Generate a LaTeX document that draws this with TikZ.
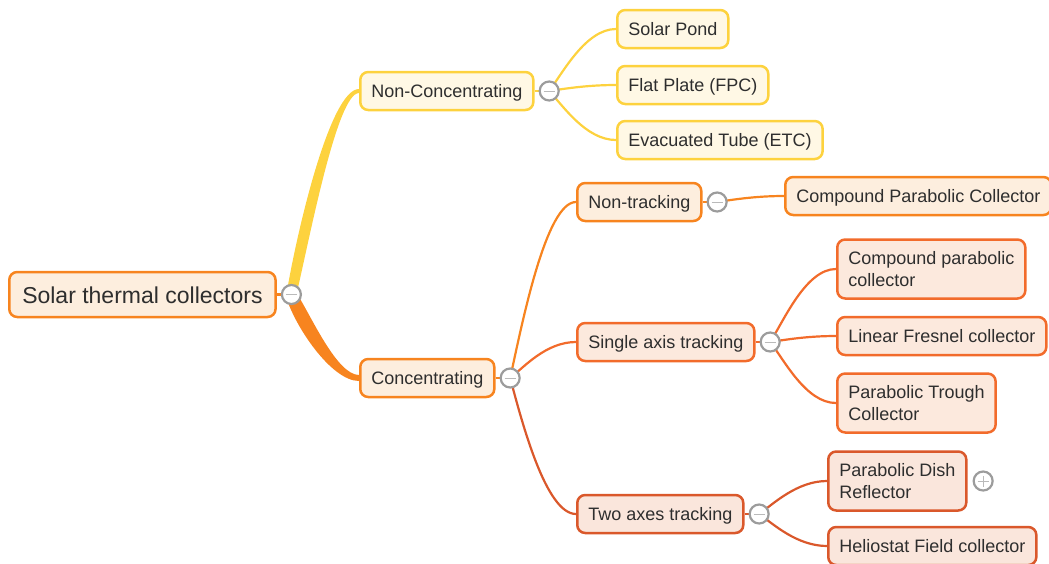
\documentclass[tikz,border=0pt]{standalone}
\usepackage{fontspec}
\setmainfont{Liberation Sans}
\usetikzlibrary{positioning,backgrounds}

\definecolor{ylw}{HTML}{FDD23E}
\definecolor{ylwbg}{HTML}{FFF8E5}
\definecolor{org}{HTML}{F7841F}
\definecolor{orgbg}{HTML}{FDEEDE}
\definecolor{rorg}{HTML}{F26B2B}
\definecolor{rorgbg}{HTML}{FCE9DD}
\definecolor{rust}{HTML}{DA582B}
\definecolor{rustbg}{HTML}{FAE6DC}
\definecolor{ink}{HTML}{2E2E2E}
\definecolor{knob}{HTML}{9C9C9C}

\begin{document}
\begin{tikzpicture}[x=1pt,y=-1pt,
    topic/.style={draw, rounded corners=8pt, line width=2.5pt, anchor=west,
      inner xsep=11pt, text=ink, font=\fontsize{18}{21.6}\selectfont, align=left},
    one/.style={topic, text height=14.5pt, text depth=2.5pt, inner ysep=10.5pt},
    two/.style={topic, minimum height=59pt, inner ysep=8pt},
    yl/.style={draw=ylw, fill=ylwbg},
    og/.style={draw=org, fill=orgbg},
    ro/.style={draw=rorg, fill=rorgbg},
    ru/.style={draw=rust, fill=rustbg},
    knobbox/.style={circle, draw=knob, fill=white, line width=2.2pt, minimum size=19pt, inner sep=0pt},
    minus/.style={knobbox, path picture={\draw[knob!70, line width=1pt]
      ([xshift=-5.5pt]path picture bounding box.center) -- ([xshift=5.5pt]path picture bounding box.center);}},
    plus/.style={knobbox, path picture={\draw[knob!70, line width=1pt]
      ([xshift=-5.5pt]path picture bounding box.center) -- ([xshift=5.5pt]path picture bounding box.center)
      ([yshift=-5.5pt]path picture bounding box.center) -- ([yshift=5.5pt]path picture bounding box.center);}},
    link/.style={line width=2.2pt}]

\useasboundingbox (0,0) rectangle (1049,563);

% topics
\node[one, og, font=\fontsize{23}{27}\selectfont, inner xsep=13pt, text height=19.5pt,
  text depth=2.5pt, inner ysep=11.5pt] (root) at (8,294.5) {Solar thermal collectors};

\node[one, yl] (noncon) at (359,91) {Non-Concentrating};
\node[one, yl] (pond) at (616,29) {Solar Pond};
\node[one, yl] (fpc) at (616,85) {Flat Plate (FPC)};
\node[one, yl] (etc) at (616,140) {Evacuated Tube (ETC)};

\node[one, og] (con) at (359,378) {Concentrating};
\node[one, og] (nontrack) at (576,202) {Non-tracking};
\node[one, og] (cpc) at (784,196) {Compound Parabolic Collector};

\node[one, ro] (single) at (576,342) {Single axis tracking};
\node[two, ro] (cpc2) at (836,269) {Compound parabolic\\collector};
\node[one, ro] (fresnel) at (836,336) {Linear Fresnel collector};
\node[two, ro] (ptc) at (836,403) {Parabolic Trough\\Collector};

\node[one, ru] (twoax) at (576,514) {Two axes tracking};
\node[two, ru] (dish) at (827,481) {Parabolic Dish\\Reflector};
\node[one, ru] (helio) at (827,546) {Heliostat Field collector};

% collapse knobs
\node[minus, right=4pt of root] (root-k) {};
\node[minus, right=4pt of noncon] (noncon-k) {};
\node[minus, right=4pt of con] (con-k) {};
\node[minus, right=4pt of nontrack] (nontrack-k) {};
\node[minus, right=4pt of single] (single-k) {};
\node[minus, right=4pt of twoax] (twoax-k) {};
\node[plus, right=5pt of dish] (dish-k) {};

\begin{scope}[on background layer]
% main branches
\fill[ylw] ([xshift=-5pt]root-k.center) .. controls +(10,-61) and +(-29,0) .. ([yshift=2pt]noncon.west)
  -- ([yshift=-2pt]noncon.west) .. controls +(-22,0) and +(13,-55) .. ([xshift=5pt]root-k.center) -- cycle;
\fill[org] ([xshift=-6pt]root-k.center) .. controls +(8,30) and +(-28,0) .. ([yshift=-3pt]con.west)
  -- ([yshift=3pt]con.west) .. controls +(-22,0) and +(14,22) .. ([xshift=6pt]root-k.center) -- cycle;
\draw[link, org] (root) -- (root-k);

\draw[link, ylw] (noncon) -- (noncon-k);
\draw[link, ylw] (noncon-k.center) .. controls +(14,-19) and +(-30,0) .. (pond.west);
\draw[link, ylw] (noncon-k.center) .. controls +(14,-2) and +(-30,0) .. (fpc.west);
\draw[link, ylw] (noncon-k.center) .. controls +(14,15) and +(-30,0) .. (etc.west);

\draw[link, org] (con) -- (con-k);
\draw[link, org] (con-k.center) .. controls +(12,-55) and +(-30,0) .. (nontrack.west);
\draw[link, rorg] (con-k.center) .. controls +(14,-11) and +(-30,0) .. (single.west);
\draw[link, rust] (con-k.center) .. controls +(12,45) and +(-30,0) .. (twoax.west);

\draw[link, org] (nontrack) -- (nontrack-k);
\draw[link, org] (nontrack-k.center) .. controls +(14,-2) and +(-30,0) .. (cpc.west);

\draw[link, rorg] (single) -- (single-k);
\draw[link, rorg] (single-k.center) .. controls +(14,-22) and +(-30,0) .. (cpc2.west);
\draw[link, rorg] (single-k.center) .. controls +(14,-2) and +(-30,0) .. (fresnel.west);
\draw[link, rorg] (single-k.center) .. controls +(14,18) and +(-30,0) .. (ptc.west);

\draw[link, rust] (twoax) -- (twoax-k);
\draw[link, rust] (twoax-k.center) .. controls +(14,-10) and +(-30,0) .. (dish.west);
\draw[link, rust] (twoax-k.center) .. controls +(14,10) and +(-30,0) .. (helio.west);
\end{scope}
\end{tikzpicture}
\end{document}
